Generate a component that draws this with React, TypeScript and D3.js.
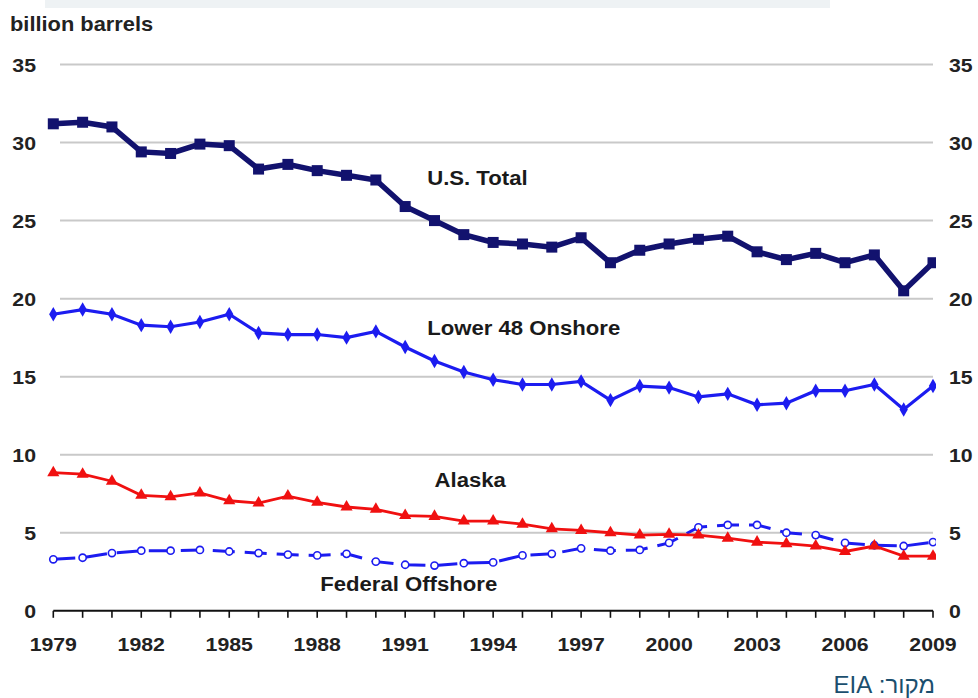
import React from "react";
import * as d3 from "d3";

const years = [1979, 1980, 1981, 1982, 1983, 1984, 1985, 1986, 1987, 1988, 1989, 1990, 1991, 1992, 1993, 1994, 1995, 1996, 1997, 1998, 1999, 2000, 2001, 2002, 2003, 2004, 2005, 2006, 2007, 2008, 2009];

const usTotal = [31.2, 31.3, 31.0, 29.4, 29.3, 29.9, 29.8, 28.3, 28.6, 28.2, 27.9, 27.6, 25.9, 25.0, 24.1, 23.6, 23.5, 23.3, 23.9, 22.3, 23.1, 23.5, 23.8, 24.0, 23.0, 22.5, 22.9, 22.3, 22.8, 20.5, 22.3];

const lower48 = [19.0, 19.3, 19.0, 18.3, 18.2, 18.5, 19.0, 17.8, 17.7, 17.7, 17.5, 17.9, 16.9, 16.0, 15.3, 14.8, 14.5, 14.5, 14.7, 13.5, 14.4, 14.3, 13.7, 13.9, 13.2, 13.3, 14.1, 14.1, 14.5, 12.9, 14.4];

const alaska = [8.85, 8.75, 8.3, 7.4, 7.3, 7.55, 7.05, 6.9, 7.35, 6.95, 6.65, 6.5, 6.1, 6.05, 5.75, 5.75, 5.55, 5.25, 5.15, 5.0, 4.85, 4.9, 4.85, 4.65, 4.4, 4.3, 4.15, 3.8, 4.15, 3.5, 3.5];

const federalOffshore = [3.3, 3.4, 3.7, 3.85, 3.85, 3.9, 3.8, 3.7, 3.6, 3.55, 3.65, 3.15, 2.95, 2.9, 3.05, 3.1, 3.55, 3.65, 4.0, 3.85, 3.9, 4.35, 5.35, 5.5, 5.5, 5.0, 4.85, 4.35, 4.2, 4.15, 4.4];

const yTicks = [0, 5, 10, 15, 20, 25, 30, 35];
const xTickLabels = [1979, 1982, 1985, 1988, 1991, 1994, 1997, 2000, 2003, 2006, 2009];

const seriesLabels = [
  { text: "U.S. Total", year: 1991.75, value: 27.3 },
  { text: "Lower 48 Onshore", year: 1991.75, value: 17.7 },
  { text: "Alaska", year: 1992.0, value: 7.95 },
  { text: "Federal Offshore", year: 1988.1, value: 1.3 },
];

const FONT = "'Liberation Sans', Arial, Helvetica, sans-serif";

function SText({ x, y, size, anchor = "start", sx = 1.08, weight = "bold", fill = "#222", children }: any) {
  return (
    <text
      transform={`translate(${x},${y}) scale(${sx},1)`}
      fontSize={size}
      fontWeight={weight}
      fontFamily={FONT}
      textAnchor={anchor}
      fill={fill}
    >
      {children}
    </text>
  );
}

export default function App() {
  const W = 978;
  const H = 698;
  const x = d3.scaleLinear().domain([1979, 2009]).range([53.3, 933]);
  const y = d3.scaleLinear().domain([0, 35]).range([610.8, 64.5]);

  const mk = (vals: number[]) =>
    d3
      .line<number>()
      .x((_, i) => x(years[i]))
      .y((v) => y(v))(vals) as string;

  const navy = "#12126e";
  const blue = "#1c1cf0";
  const red = "#f01010";

  return (
    <svg
      width={W}
      height={H}
      style={{ position: "fixed", left: 0, top: 0, background: "#fff" }}
    >
      <rect x={0} y={0} width={W} height={H} fill="#fff" />
      <rect x={45} y={0} width={785} height={8} fill="#eef2f4" />
      <defs>
        <clipPath id="plotclip">
          <rect x={0} y={0} width={936} height={H} />
        </clipPath>
      </defs>

      <SText x={10} y={31} size={19.5} sx={1.12}>billion barrels</SText>

      {/* gridlines */}
      {yTicks.filter((t) => t > 0).map((t) => (
        <line key={t} x1={60} x2={933} y1={y(t)} y2={y(t)} stroke="#c9c9c9" strokeWidth={2} />
      ))}

      {/* y labels */}
      {yTicks.map((t) => (
        <g key={"l" + t}>
          <SText x={36} y={y(t) + 7} size={19} anchor="end" sx={1.12}>{t}</SText>
          <SText x={949} y={y(t) + 7} size={19} anchor="start" sx={1.12}>{t}</SText>
        </g>
      ))}

      {/* x axis */}
      <line x1={x(1979)} x2={x(2009)} y1={y(0)} y2={y(0)} stroke="#111" strokeWidth={2} />
      {years.map((yr) => (
        <line key={"t" + yr} x1={x(yr)} x2={x(yr)} y1={y(0)} y2={y(0) + 7} stroke="#111" strokeWidth={1.6} />
      ))}
      {xTickLabels.map((yr) => (
        <SText key={"xl" + yr} x={x(yr)} y={651} size={19} anchor="middle" sx={1.12}>{yr}</SText>
      ))}

      <g clipPath="url(#plotclip)">
        {/* Federal Offshore */}
        <path d={mk(federalOffshore)} fill="none" stroke={blue} strokeWidth={3} strokeDasharray="22 10" />
        {federalOffshore.map((v, i) => (
          <circle key={"f" + i} cx={x(years[i])} cy={y(v)} r={3.6} fill="#fff" stroke={blue} strokeWidth={1.6} />
        ))}

        {/* Alaska */}
        <path d={mk(alaska)} fill="none" stroke={red} strokeWidth={2.8} />
        {alaska.map((v, i) => (
          <path
            key={"a" + i}
            transform={`translate(${x(years[i])},${y(v)})`}
            d={d3.symbol(d3.symbolTriangle, 64)() as string}
            fill={red}
          />
        ))}

        {/* Lower 48 */}
        <path d={mk(lower48)} fill="none" stroke={blue} strokeWidth={3.2} />
        {lower48.map((v, i) => (
          <path
            key={"l" + i}
            transform={`translate(${x(years[i])},${y(v)})`}
            d={d3.symbol(d3.symbolDiamond, 60)() as string}
            fill={blue}
          />
        ))}

        {/* US Total */}
        <path d={mk(usTotal)} fill="none" stroke={navy} strokeWidth={5.5} />
        {usTotal.map((v, i) => (
          <rect key={"u" + i} x={x(years[i]) - 5.5} y={y(v) - 5.5} width={11} height={11} fill={navy} />
        ))}
      </g>

      {/* series labels */}
      {seriesLabels.map((s) => (
        <SText key={s.text} x={x(s.year)} y={y(s.value)} size={20.5} sx={1.08} fill="#1a1a1a">{s.text}</SText>
      ))}

      {/* source */}
      <text
        x={935}
        y={693}
        direction="rtl"
        textAnchor="start"
        fontSize={24}
        fontFamily={FONT}
        fill="#1b4f6e"
      >
        מקור: EIA
      </text>
    </svg>
  );
}
